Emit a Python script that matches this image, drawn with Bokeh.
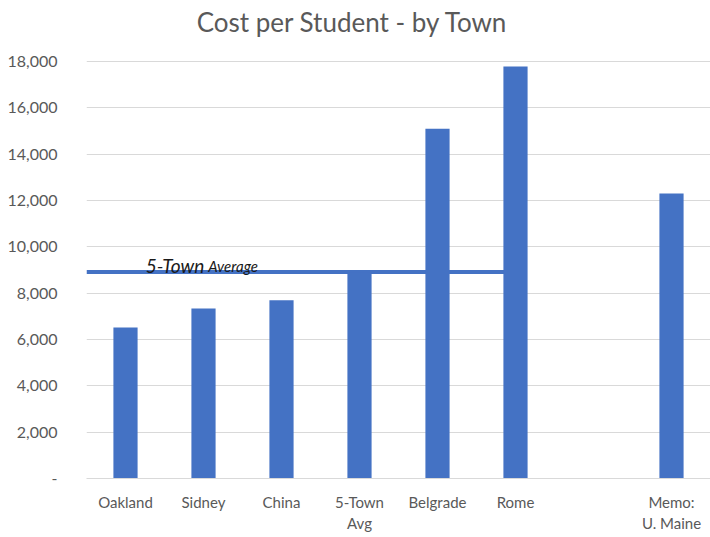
from bokeh.plotting import figure
from bokeh.models import ColumnDataSource, NumeralTickFormatter, FixedTicker, CustomJSTickFormatter
from bokeh.core.properties import value
from bokeh.embed import file_html
from bokeh.resources import INLINE

categories = ["Oakland", "Sidney", "China", "5-Town Avg", "Belgrade", "Rome", " ", "Memo: U. Maine"]
costs = [6520, 7340, 7690, 8900, 15100, 17780, 0, 12300]
town_average = 8910
y_ticks = [0, 2000, 4000, 6000, 8000, 10000, 12000, 14000, 16000, 18000]
tick_labels = {"5-Town Avg": "5-Town\nAvg", "Memo: U. Maine": "Memo:\nU. Maine"}
chart_title = "Cost per Student - by Town"

FONT = "Lato"
GRAY = "#595959"
BLUE = "#4472C4"

# layout: frame spans 473 px; the 0..18000 axis occupies the lower 417 px,
# the space above holds the title
Y_MAX = 18000
Y_TOP = Y_MAX * 473 / 417
TITLE_Y = Y_MAX * 457 / 417

p = figure(x_range=categories, y_range=(0, Y_TOP), width=710, height=537,
           output_backend="svg", toolbar_location=None,
           min_border_left=86, min_border_right=0, min_border_bottom=59, min_border_top=5)
p.outline_line_color = None

p.text(x=[("5-Town Avg", -0.09)], y=[TITLE_Y], text=[chart_title],
       text_font=value(FONT), text_font_size="26px", text_color=GRAY,
       text_align="center", text_baseline="middle")

# average line (drawn first so bars cover it)
p.segment(x0=[("Oakland", -0.5)], y0=[town_average], x1=[("Rome", 0)], y1=[town_average],
          line_color=BLUE, line_width=4)

src = ColumnDataSource(dict(x=categories, top=costs))
p.vbar(x="x", top="top", width=0.31, source=src, fill_color=BLUE, line_color=None)

p.text(x=[("Oakland", 0.26)], y=[town_average + 270], text=["5-Town"],
       text_font=value(FONT), text_font_size="19px", text_font_style="italic",
       text_color="#1a1a1a", text_baseline="alphabetic", text_align="left")
p.text(x=[("Sidney", 0.06)], y=[town_average + 270], text=["Average"],
       text_font=value(FONT), text_font_size="15px", text_font_style="italic",
       text_color="#1a1a1a", text_baseline="alphabetic", text_align="left")

p.yaxis.ticker = FixedTicker(ticks=y_ticks)
p.yaxis.formatter = NumeralTickFormatter(format="0,0")
p.yaxis.major_label_overrides = {0: "-"}
p.yaxis.axis_line_color = None
p.yaxis.major_tick_line_color = None
p.yaxis.minor_tick_line_color = None
p.yaxis.major_label_standoff = 23
p.yaxis.major_label_text_font_size = "16px"

p.xaxis.formatter = CustomJSTickFormatter(args=dict(labels=tick_labels), code="""
    const m = labels instanceof Map ? labels : new Map(Object.entries(labels));
    return m.has(tick) ? m.get(tick) : tick;
""")
p.xaxis.axis_line_color = "#d9d9d9"
p.xaxis.major_tick_line_color = None
p.xaxis.minor_tick_line_color = None
p.xaxis.major_label_standoff = 8
p.xaxis.major_label_text_font_size = "15px"

for ax in (p.xaxis, p.yaxis):
    ax.major_label_text_font = FONT
    ax.major_label_text_color = GRAY

p.xgrid.grid_line_color = None
p.ygrid.grid_line_color = "#d9d9d9"
p.ygrid.grid_line_width = 1

open("out.html", "w").write(file_html(p, INLINE))
